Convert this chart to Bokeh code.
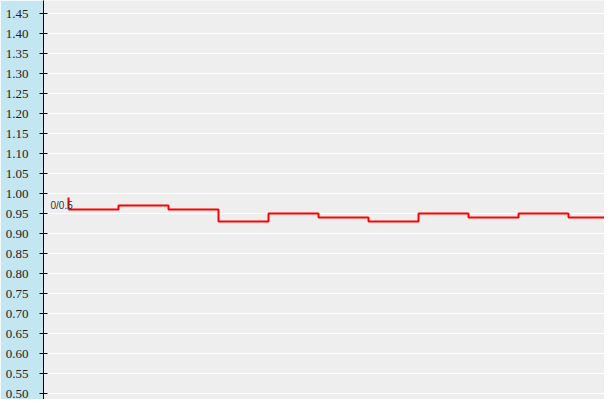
from bokeh.plotting import figure
from bokeh.models import SingleIntervalTicker, NumeralTickFormatter, Range1d
from bokeh.embed import file_html
from bokeh.resources import INLINE
from bokeh.core.properties import value

# data
steps_x = [0, 1, 2, 3, 4, 5, 6, 7, 8, 9, 10, 11]
steps_y = [0.96, 0.97, 0.96, 0.93, 0.95, 0.94, 0.93, 0.95, 0.94, 0.95, 0.94, 0.94]
marker_top = 0.99
label_text = "0/0.5"

p = figure(width=604, height=399, output_backend="svg", toolbar_location=None,
           x_range=Range1d(-0.5, 10.72), y_range=Range1d(0.485, 1.4825),
           min_border_left=43, min_border_right=0, min_border_top=0, min_border_bottom=0)
p.background_fill_color = "#eeeeee"
p.border_fill_color = "#c3e6f1"
p.outline_line_color = None
p.xaxis.visible = False
p.xgrid.visible = False

ya = p.yaxis[0]
ya.ticker = SingleIntervalTicker(interval=0.05)
ya.formatter = NumeralTickFormatter(format="0.00")
ya.minor_tick_line_color = None
ya.major_tick_in = 4
ya.major_tick_out = 4
ya.major_label_standoff = 11
ya.axis_line_color = "black"
ya.major_tick_line_color = "black"
ya.major_label_text_font = "Liberation Serif"
ya.major_label_text_font_size = "13px"
ya.major_label_text_color = "#222222"

p.ygrid.grid_line_color = "white"
p.ygrid.grid_line_width = 1
p.ygrid.ticker = ya.ticker

p.step(steps_x, steps_y, mode="after", line_color="red", line_width=2)
p.segment(x0=[steps_x[0]], y0=[steps_y[0]], x1=[steps_x[0]], y1=[marker_top],
          line_color="red", line_width=2)
p.text(x=[-0.36], y=[0.97], text=[label_text], text_font=value("Liberation Sans"),
       text_font_size="10px", text_align="left", text_baseline="middle",
       text_color="#333333")

open("out.html", "w").write(file_html(p, INLINE))
